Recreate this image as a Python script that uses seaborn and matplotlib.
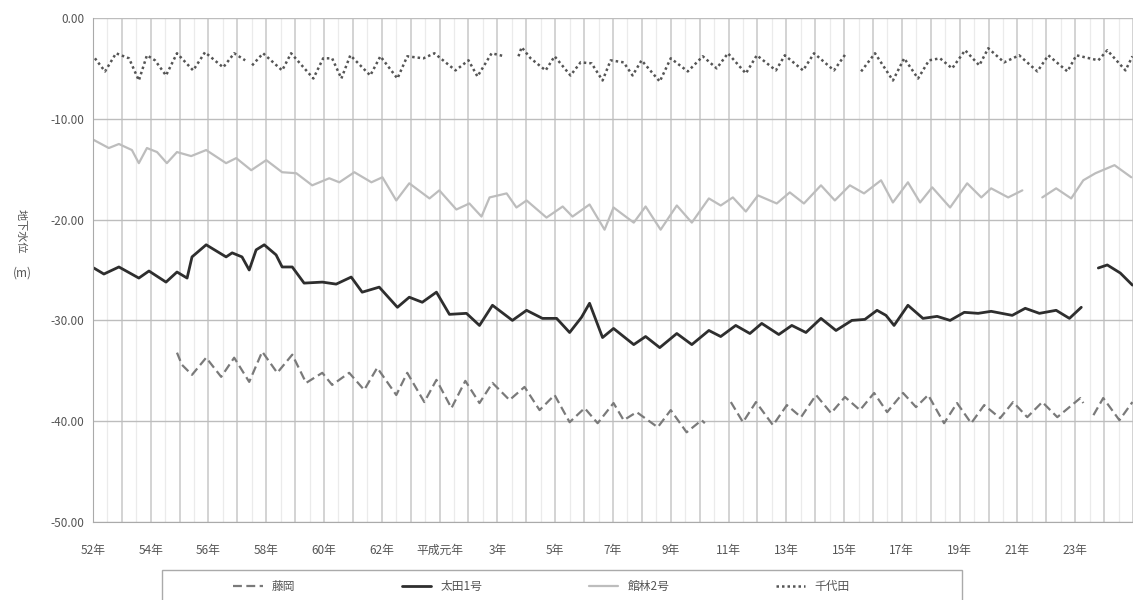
import numpy as np
import pandas as pd
import seaborn as sns
import matplotlib.pyplot as plt
from matplotlib.lines import Line2D
from matplotlib.patches import Rectangle

# 観測井ごとのデータ（年, 地下水位 m）。nan は欠測
fujioka_year = [1979.91, 1980.08, 1980.43, 1980.92, 1981.44, 1981.89, 1982.41, 1982.86, 1983.38, 1983.90,
                1984.38, 1984.94, 1985.28, 1985.87, 1986.39, 1986.84, 1987.50, 1987.88, 1988.47, 1988.89,
                1989.41, 1989.89, 1990.38, 1990.83, 1991.42, 1991.94, 1992.46, 1992.98, 1993.50, 1994.02,
                1994.47, 1995.02, 1995.37, 1995.82, 1996.55, 1997.00, 1997.55, 1998.07, 1998.18, 1998.60,
                1999.08, 1999.50, 1999.95, 2000.54, 2001.02, 2001.51, 2002.03, 2002.55, 2003.03, 2003.55,
                2004.04, 2004.49, 2005.04, 2005.49, 2005.91, 2006.46, 2006.91, 2007.40, 2007.85, 2008.40,
                2008.85, 2009.34, 2009.86, 2010.38, 2011.18, 2011.28, 2011.50, 2011.63, 2011.97, 2012.53,
                2012.98]
fujioka_level = [-33.2, -34.4, -35.4, -33.7, -35.6, -33.7, -36.1, -33.1, -35.2, -33.4,
                 -36.2, -35.2, -36.4, -35.2, -36.9, -34.7, -37.4, -35.2, -38.1, -35.9,
                 -38.7, -36.0, -38.2, -36.2, -37.9, -36.6, -38.9, -37.4, -40.1, -38.7,
                 -40.2, -38.2, -39.9, -39.1, -40.6, -38.9, -41.1, -39.9, -40.2, np.nan,
                 -38.1, -40.1, -38.1, -40.4, -38.4, -39.6, -37.4, -39.2, -37.6, -38.9,
                 -37.2, -39.1, -37.2, -38.6, -37.4, -40.2, -38.2, -40.2, -38.4, -39.7,
                 -38.1, -39.6, -38.1, -39.6, -37.7, -38.2, np.nan, -39.4, -37.7, -39.9,
                 -38.1]

ota_year = [1977.03, 1977.38, 1977.90, 1978.59, 1978.94, 1979.53, 1979.91, 1980.26, 1980.43, 1980.92,
            1981.61, 1981.82, 1982.16, 1982.41, 1982.65, 1982.93, 1983.34, 1983.55, 1983.90, 1984.31,
            1984.94, 1985.42, 1985.94, 1986.32, 1986.91, 1987.54, 1987.95, 1988.40, 1988.89, 1989.34,
            1989.93, 1990.38, 1990.83, 1991.52, 1992.01, 1992.56, 1993.05, 1993.50, 1993.91, 1994.19,
            1994.64, 1995.02, 1995.72, 1996.13, 1996.62, 1997.21, 1997.73, 1998.32, 1998.73, 1999.25,
            1999.74, 2000.15, 2000.74, 2001.19, 2001.68, 2002.20, 2002.72, 2003.27, 2003.72, 2004.14,
            2004.45, 2004.73, 2005.21, 2005.73, 2006.22, 2006.67, 2007.16, 2007.64, 2008.09, 2008.82,
            2009.27, 2009.76, 2010.34, 2010.80, 2011.21, 2011.50, 2011.80, 2012.11, 2012.56, 2012.98]
ota_level = [-24.8, -25.4, -24.7, -25.8, -25.1, -26.2, -25.2, -25.8, -23.7, -22.5,
             -23.7, -23.3, -23.7, -25.0, -23.0, -22.5, -23.5, -24.7, -24.7, -26.3,
             -26.2, -26.4, -25.7, -27.2, -26.7, -28.7, -27.7, -28.2, -27.2, -29.4,
             -29.3, -30.5, -28.5, -30.0, -29.0, -29.8, -29.8, -31.2, -29.7, -28.3,
             -31.7, -30.8, -32.4, -31.6, -32.7, -31.3, -32.4, -31.0, -31.6, -30.5,
             -31.3, -30.3, -31.4, -30.5, -31.2, -29.8, -31.0, -30.0, -29.9, -29.0,
             -29.5, -30.5, -28.5, -29.8, -29.6, -30.0, -29.2, -29.3, -29.1, -29.5,
             -28.8, -29.3, -29.0, -29.8, -28.7, np.nan, -24.8, -24.5, -25.3, -26.5]

tatebayashi_year = [1977.03, 1977.55, 1977.90, 1978.35, 1978.59, 1978.87, 1979.22, 1979.56, 1979.91, 1980.40,
                    1980.92, 1981.61, 1981.96, 1982.48, 1983.00, 1983.55, 1984.04, 1984.59, 1985.18, 1985.53,
                    1986.05, 1986.64, 1987.02, 1987.50, 1987.95, 1988.65, 1988.99, 1989.58, 1990.03, 1990.45,
                    1990.73, 1991.32, 1991.66, 1992.01, 1992.70, 1993.26, 1993.60, 1994.19, 1994.71, 1995.02,
                    1995.72, 1996.13, 1996.65, 1997.21, 1997.73, 1998.32, 1998.73, 1999.15, 1999.60, 2000.02,
                    2000.67, 2001.12, 2001.61, 2002.20, 2002.68, 2003.20, 2003.69, 2004.28, 2004.69, 2005.21,
                    2005.63, 2006.05, 2006.67, 2007.26, 2007.75, 2008.09, 2008.68, 2009.17, 2009.50, 2009.86,
                    2010.34, 2010.86, 2011.28, 2011.70, 2012.36, 2012.94]
tatebayashi_level = [-12.1, -12.9, -12.5, -13.1, -14.4, -12.9, -13.3, -14.4, -13.3, -13.7,
                     -13.1, -14.4, -13.9, -15.1, -14.1, -15.3, -15.4, -16.6, -15.9, -16.3,
                     -15.3, -16.3, -15.8, -18.1, -16.4, -17.9, -17.1, -19.0, -18.4, -19.7,
                     -17.8, -17.4, -18.8, -18.1, -19.8, -18.7, -19.7, -18.5, -21.0, -18.8,
                     -20.3, -18.7, -21.0, -18.6, -20.3, -17.9, -18.6, -17.8, -19.2, -17.6,
                     -18.4, -17.3, -18.4, -16.6, -18.1, -16.6, -17.4, -16.1, -18.3, -16.3,
                     -18.3, -16.8, -18.8, -16.4, -17.8, -16.9, -17.8, -17.1, np.nan, -17.8,
                     -16.9, -17.9, -16.1, -15.4, -14.6, -15.8]

chiyoda_year = [1977.07, 1977.42, 1977.80, 1978.25, 1978.59, 1978.87, 1979.15, 1979.53, 1979.91, 1980.47,
                1980.88, 1981.51, 1981.89, 1982.27, 1982.40, 1982.51, 1982.89, 1983.55, 1983.86, 1984.63,
                1984.97, 1985.28, 1985.60, 1985.91, 1986.60, 1986.95, 1987.54, 1987.88, 1988.44, 1988.82,
                1989.55, 1990.00, 1990.31, 1990.80, 1991.25, 1991.50, 1991.73, 1991.84, 1992.15, 1992.67,
                1992.98, 1993.53, 1993.88, 1994.26, 1994.64, 1994.92, 1995.37, 1995.68, 1995.99, 1996.62,
                1997.00, 1997.59, 1998.11, 1998.59, 1998.98, 1999.60, 1999.98, 2000.64, 2000.95, 2001.58,
                2001.96, 2002.65, 2003.07, 2003.30, 2003.59, 2004.07, 2004.69, 2005.08, 2005.56, 2005.94,
                2006.32, 2006.74, 2007.19, 2007.68, 2007.99, 2008.54, 2009.06, 2009.69, 2010.07, 2010.73,
                2011.04, 2011.80, 2012.11, 2012.74, 2012.98]
chiyoda_level = [-4.0, -5.3, -3.5, -4.0, -6.2, -3.7, -4.2, -5.7, -3.5, -5.2,
                 -3.4, -4.9, -3.5, -4.2, np.nan, -4.7, -3.5, -5.2, -3.5, -6.0,
                 -4.0, -4.0, -6.0, -3.7, -5.7, -3.8, -6.0, -3.8, -4.0, -3.5,
                 -5.2, -4.2, -5.8, -3.5, -3.8, np.nan, -3.8, -2.9, -4.0, -5.2,
                 -3.8, -5.7, -4.4, -4.5, -6.2, -4.2, -4.4, -5.7, -4.2, -6.3,
                 -4.0, -5.3, -3.8, -5.0, -3.5, -5.5, -3.7, -5.2, -3.7, -5.2,
                 -3.5, -5.2, -3.5, np.nan, -5.3, -3.5, -6.2, -4.0, -6.0, -4.2,
                 -4.0, -5.0, -3.2, -4.7, -3.0, -4.4, -3.7, -5.3, -3.7, -5.3,
                 -3.7, -4.2, -3.2, -5.2, -3.8]

series_names = ['藤岡', '太田1号', '館林2号', '千代田']
series_year = [fujioka_year, ota_year, tatebayashi_year, chiyoda_year]
series_level = [fujioka_level, ota_level, tatebayashi_level, chiyoda_level]

tick_years = list(range(1977, 2012, 2))
tick_labels = ['52年', '54年', '56年', '58年', '60年', '62年', '平成元年', '3年', '5年',
               '7年', '9年', '11年', '13年', '15年', '17年', '19年', '21年', '23年']

colors = ['#7a7a7a', '#2e2e2e', '#bdbdbd', '#555555']
widths = [1.6, 2.0, 1.6, 1.8]
dashes = [(0, (4, 2)), '-', '-', (0, (1, 1.2))]

sns.set_style('white')
plt.rcParams['font.family'] = ['Noto Sans CJK JP', 'DejaVu Sans']

fig = plt.figure(figsize=(11.33, 6.0), dpi=100)
ax = fig.add_axes([0.082, 0.13, 0.918, 0.84])

# グリッド（年ごとに縦線、半年ごとに薄い線）
for yr in np.arange(1977, 2014, 1):
    ax.axvline(yr, color='#c8c8c8', lw=1.1, zorder=0)
for yr in np.arange(1977.5, 2013, 1):
    ax.axvline(yr, color='#ebebeb', lw=0.9, zorder=0)
for v in range(-50, 1, 10):
    ax.axhline(v, color='#bdbdbd', lw=1.0, zorder=0)

for name, yrs, lv, c, w, ls in zip(series_names, series_year, series_level, colors, widths, dashes):
    df = pd.DataFrame({'year': yrs, 'level': lv})
    df['seg'] = df['level'].isna().cumsum()
    df = df.dropna()
    sns.lineplot(data=df, x='year', y='level', units='seg', estimator=None,
                 color=c, lw=w, linestyle=ls, ax=ax, legend=False, sort=False)

ax.set_xlim(1977, 2013)
ax.set_ylim(-50, 0)
ax.set_xticks(tick_years)
ax.set_xticklabels(tick_labels, fontsize=8.5, color='#555555')
ax.set_yticks(range(-50, 1, 10))
ax.set_yticklabels([f'{v:.2f}' for v in range(-50, 1, 10)], fontsize=8.5, color='#555555')
ax.tick_params(axis='y', length=0, pad=6)
ax.tick_params(axis='x', length=0, pad=16)
ax.set_xlabel('')
ax.set_ylabel('')
for s in ['top', 'right']:
    ax.spines[s].set_visible(False)
for s in ['left', 'bottom']:
    ax.spines[s].set_color('#aaaaaa')

fig.text(0.018, 0.615, '地下水位', rotation=270, fontsize=8, color='#555555', ha='center', va='center')
fig.text(0.02, 0.545, '(m)', fontsize=8.5, color='#555555', ha='center', va='center')

# 凡例の枠（下端は画像の外まで続く）
fig.patches.append(Rectangle((162 / 1133, -0.03), 800 / 1133, 0.08, transform=fig.transFigure,
                             fill=False, edgecolor='#aaaaaa', lw=1.0))
handles = [Line2D([], [], color=c, lw=w, linestyle=ls) for c, w, ls in zip(colors, widths, dashes)]
fig.legend(handles, series_names, loc='center', bbox_to_anchor=(0.478, 0.022), ncol=4,
           frameon=False, fontsize=8.5, columnspacing=9.0,
           handlelength=2.5, labelcolor='#555555')

fig.savefig('out.png', dpi=100)
